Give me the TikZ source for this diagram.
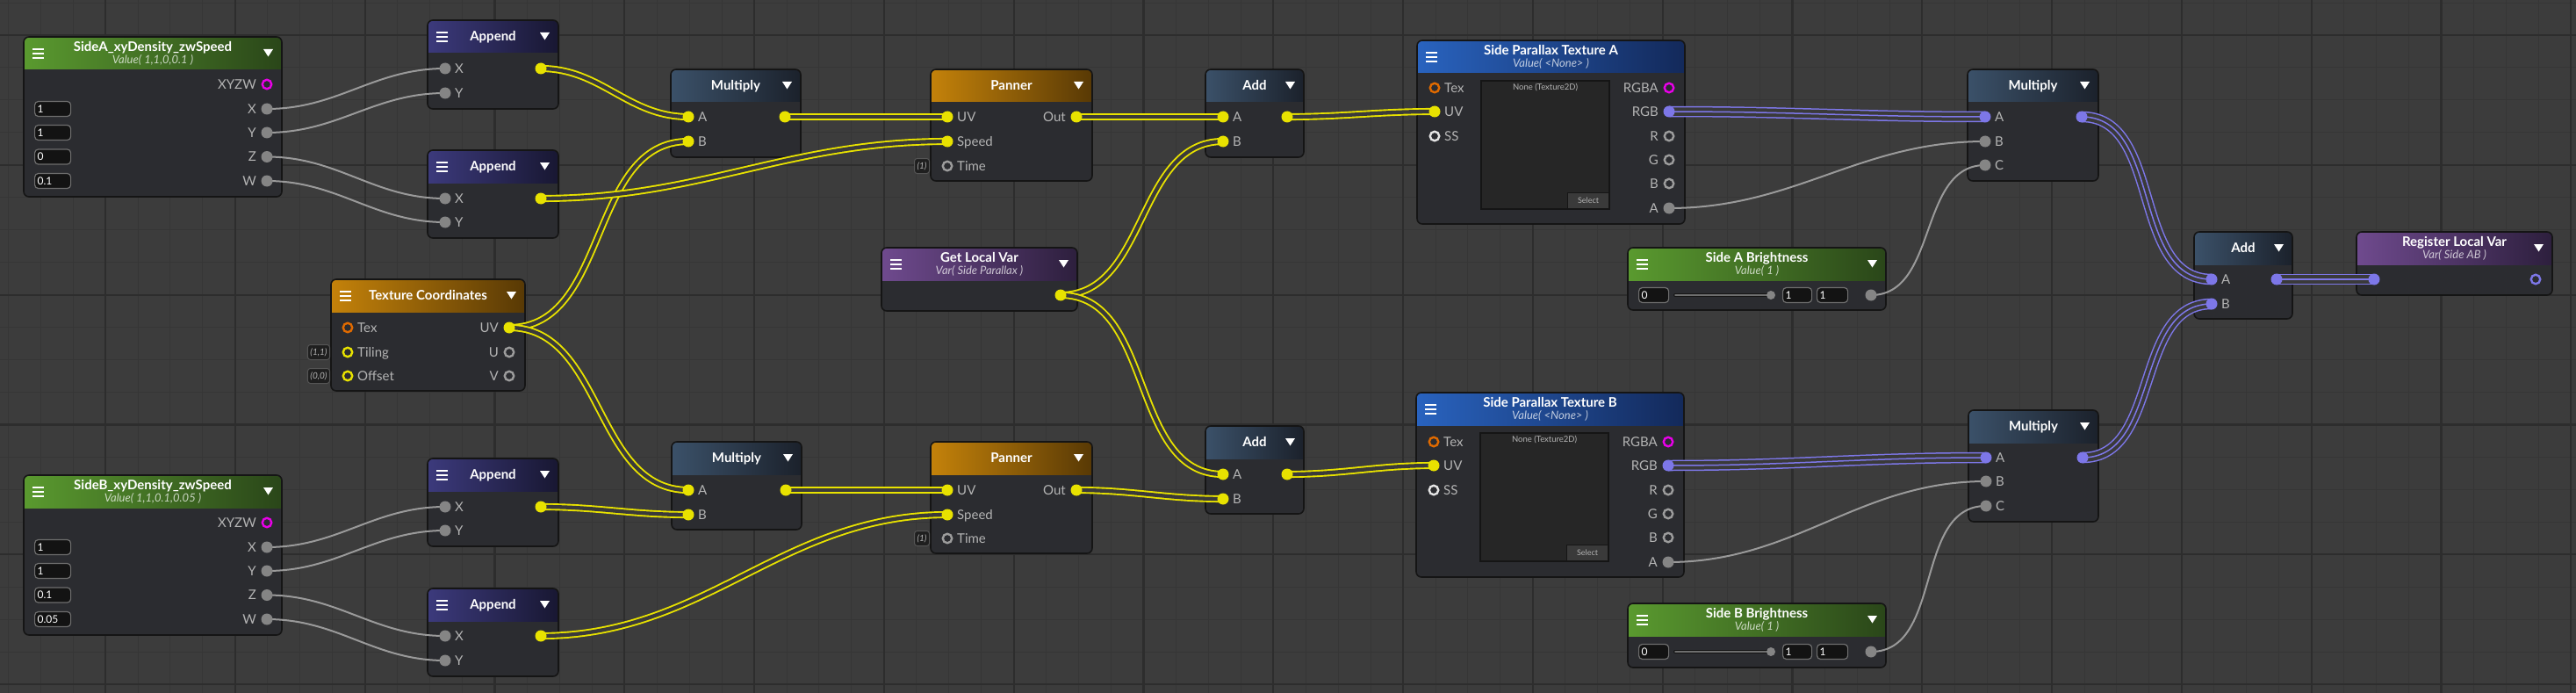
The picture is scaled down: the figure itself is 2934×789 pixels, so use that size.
\documentclass[tikz,border=0pt]{standalone}
\usepackage{fontspec}
\setmainfont{Lato}
\usetikzlibrary{calc}

\definecolor{canvas}{HTML}{3C3C3C}
\definecolor{gridminor}{HTML}{363636}
\definecolor{gridmajor}{HTML}{2D2D2D}
\definecolor{nodebody}{HTML}{2B2C30}
\definecolor{edgeblack}{HTML}{151515}
\definecolor{greenL}{HTML}{5A9A2F}
\definecolor{greenR}{HTML}{2A4619}
\definecolor{indigoL}{HTML}{3C3A7C}
\definecolor{indigoR}{HTML}{181732}
\definecolor{slateL}{HTML}{3B5169}
\definecolor{slateR}{HTML}{1B212B}
\definecolor{amberL}{HTML}{C4820A}
\definecolor{amberR}{HTML}{583905}
\definecolor{plumL}{HTML}{6F4A8E}
\definecolor{plumR}{HTML}{2D1F3D}
\definecolor{royalL}{HTML}{2963BF}
\definecolor{royalR}{HTML}{13295A}
\definecolor{wyellow}{HTML}{E8E200}
\definecolor{wgap}{HTML}{3A3A3A}
\definecolor{wgrey}{HTML}{9A9A9A}
\definecolor{wpurple}{HTML}{7D77E8}
\definecolor{portgrey}{HTML}{858585}
\definecolor{ringgrey}{HTML}{9C9C9C}
\definecolor{ringwhite}{HTML}{E4E4E4}
\definecolor{pmagenta}{HTML}{E800E8}
\definecolor{porange}{HTML}{E06A00}
\definecolor{labelgrey}{HTML}{B4B4B4}
\definecolor{fieldedge}{HTML}{6E6E6E}
\definecolor{fieldfill}{HTML}{131313}
\definecolor{tagedge}{HTML}{555555}
\definecolor{tagfill}{HTML}{1F1F1F}
\definecolor{previewfill}{HTML}{262626}
\definecolor{buttonfill}{HTML}{3A3A3A}

\pgfdeclarelayer{canvaslayer}
\pgfdeclarelayer{boxlayer}
\pgfdeclarelayer{wirelayer}
\pgfsetlayers{canvaslayer,boxlayer,wirelayer,main}

\tikzset{
  titletext/.style={font=\fontsize{15}{17}\selectfont\bfseries, text=white, inner sep=0pt, text height=10.8pt, text depth=0pt},
  subtext/.style={font=\fontsize{13}{15}\selectfont\itshape, text=white, text opacity=0.72, inner sep=0pt, text height=9.4pt, text depth=0pt},
  portlabel/.style={font=\fontsize{15}{17}\selectfont, text=labelgrey, inner sep=0pt, text height=10.8pt, text depth=0pt},
  nodeedge/.style={draw=edgeblack, line width=1.6pt, rounded corners=6pt},
  fieldbox/.style={draw=fieldedge, fill=fieldfill, line width=1.2pt, rounded corners=4pt, inner xsep=3pt, inner ysep=0pt, minimum height=17pt, font=\fontsize{12}{14}\selectfont, text=white, align=left, text height=8.6pt, text depth=0pt},
  tagbox/.style={draw=tagedge, fill=tagfill, line width=1pt, rounded corners=3pt, inner xsep=3pt, inner ysep=0pt, minimum height=17pt, font=\fontsize{10}{12}\selectfont\itshape, text=labelgrey, text height=7.2pt, text depth=0pt},
  selectbtn/.style={fill=buttonfill, draw=edgeblack, line width=0.8pt, minimum width=47pt, minimum height=18pt, inner sep=0pt, font=\fontsize{9}{10}\selectfont, text=labelgrey},
  pY/.style={circle, fill=wyellow, minimum size=13pt, inner sep=0pt},
  pG/.style={circle, fill=portgrey, minimum size=13pt, inner sep=0pt},
  pP/.style={circle, fill=wpurple, minimum size=13pt, inner sep=0pt},
  ring/.style={circle, draw=#1, line width=2.4pt, minimum size=10.5pt, inner sep=0pt},
  rM/.style={ring=pmagenta}, rO/.style={ring=porange}, rY/.style={ring=wyellow},
  rG/.style={ring=ringgrey}, rW/.style={ring=ringwhite}, rP/.style={ring=wpurple},
  wire/.style={out=0, in=180, looseness=1},
  wgry/.style={draw=wgrey, line width=2pt},
  wyel/.style={draw=wyellow, double=wgap, double distance=4.3pt, line width=1.9pt},
  wpur/.style={draw=wpurple, line width=1.5pt, preaction={draw=wpurple, line width=12.5pt}, preaction={draw=wgap, line width=9.5pt}},
}

% box: name, x, y, width, height, header colour, title, subtitle
\newcommand{\asebox}[8]{%
  \coordinate (#1) at (#2,#3);
  \coordinate (#1-tr) at ({#2+#4},#3);
  \begin{pgfonlayer}{boxlayer}
    \begin{scope}
      \clip[rounded corners=6pt] (#2,#3) rectangle ++(#4,#5);
      \fill[nodebody] (#2,#3) rectangle ++(#4,#5);
      \shade[left color=#6L, right color=#6R] (#2,#3) rectangle ++(#4,37);
    \end{scope}
    \draw[nodeedge] (#2,#3) rectangle ++(#4,#5);
  \end{pgfonlayer}
  \def\subt{#8}%
  \ifx\subt\empty
    \node[titletext] (#1-title) at ({#2+#4/2},{#3+18.5}) {#7};
  \else
    \node[titletext] (#1-title) at ({#2+#4/2},{#3+11}) {#7};
    \node[subtext] (#1-sub) at ({#2+#4/2},{#3+26}) {#8};
  \fi}
\newcommand{\menuicon}[1]{\foreach \d in {14,19,24} \draw[white, line width=2.2pt] ($(#1)+(10,\d)$) -- ++(13,0);}
\newcommand{\dropicon}[1]{\fill[white] ($(#1-tr)+(-21,14)$) -- ++(11,0) -- ++(-5.5,8.5) -- cycle;}
% ports: name, x, y, label, dot style
\newcommand{\portin}[5]{\coordinate (#1) at (#2,#3); \node[#5] (#1-dot) at (#1) {};
  \node[portlabel, anchor=west] (#1-label) at ({#2+11},#3) {#4};}
\newcommand{\portout}[5]{\coordinate (#1) at (#2,#3); \node[#5] (#1-dot) at (#1) {};
  \node[portlabel, anchor=east] (#1-label) at ({#2-12},#3) {#4};}
\newcommand{\portdot}[4]{\coordinate (#1) at (#2,#3); \node[#4] (#1-dot) at (#1) {};}
\newcommand{\valfield}[5]{\node[fieldbox, text width=#4pt, anchor=west] (#1) at (#2,#3) {#5};}
\newcommand{\texpreview}[3]{%
  \filldraw[fill=previewfill, draw=edgeblack, line width=1.2pt] (#2,#3) rectangle ++(146,146);
  \node[font=\fontsize{9.5}{11}\selectfont, text=labelgrey] (#1-none) at ({#2+73},{#3+8}) {None (Texture2D)};
  \node[selectbtn, anchor=south east] (#1-select) at ({#2+146},{#3+146}) {Select};}
\newcommand{\slider}[3]{%
  \valfield{#1-min}{#2}{#3}{28}{0}
  \draw[line width=4pt, draw=edgeblack, line cap=round] ({#2+42},#3) -- ({#2+150},#3);
  \draw[line width=2pt, draw=fieldedge, line cap=round] ({#2+42},#3) -- ({#2+150},#3);
  \node[circle, fill=portgrey, minimum size=10pt, inner sep=0pt] (#1-knob) at ({#2+151},#3) {};
  \valfield{#1-val}{#2+164}{#3}{27}{1}
  \valfield{#1-max}{#2+203}{#3}{29}{1}}

\begin{document}
\begin{tikzpicture}[x=1pt, y=-1pt]
\useasboundingbox (0,0) rectangle (2934,789);
\begin{pgfonlayer}{canvaslayer}
  \fill[canvas] (0,0) rectangle (2934,789);
  \foreach \i in {0,...,79} \draw[gridminor, line width=1pt] ({9.2+36.95*\i},0) -- ++(0,789);
  \foreach \j in {0,...,21} \draw[gridminor, line width=1pt] (0,{3.05+36.95*\j}) -- ++(2934,0);
  \foreach \i in {0,...,19} \draw[gridmajor, line width=2.2pt] ({120+147.8*\i},0) -- ++(0,789);
  \foreach \j in {0,...,5} \draw[gridmajor, line width=2.2pt] (0,{40+147.8*\j}) -- ++(2934,0);
\end{pgfonlayer}

% vector properties
\asebox{sa}{27}{42}{294}{182}{green}{SideA\_xyDensity\_zwSpeed}{Value( 1,1,0,0.1 )}
\menuicon{sa} \dropicon{sa}
\portout{sa-xyzw}{304}{96}{XYZW}{rM}
\portout{sa-x}{304}{124}{X}{pG}
\portout{sa-y}{304}{151}{Y}{pG}
\portout{sa-z}{304}{178.5}{Z}{pG}
\portout{sa-w}{304}{206}{W}{pG}
\valfield{sa-f1}{39}{124}{35}{1}
\valfield{sa-f2}{39}{151}{35}{1}
\valfield{sa-f3}{39}{178.5}{35}{0}
\valfield{sa-f4}{39}{206}{35}{0.1}

\asebox{sb}{27}{541}{294}{182}{green}{SideB\_xyDensity\_zwSpeed}{Value( 1,1,0.1,0.05 )}
\menuicon{sb} \dropicon{sb}
\portout{sb-xyzw}{304}{595}{XYZW}{rM}
\portout{sb-x}{304}{623}{X}{pG}
\portout{sb-y}{304}{650}{Y}{pG}
\portout{sb-z}{304}{677.5}{Z}{pG}
\portout{sb-w}{304}{705}{W}{pG}
\valfield{sb-f1}{39}{623}{35}{1}
\valfield{sb-f2}{39}{650}{35}{1}
\valfield{sb-f3}{39}{677.5}{35}{0.1}
\valfield{sb-f4}{39}{705}{35}{0.05}

% appends
\asebox{ap1}{487}{23}{149}{101}{indigo}{Append}{}
\menuicon{ap1} \dropicon{ap1}
\portin{ap1-x}{507}{78}{X}{pG} \portin{ap1-y}{507}{106}{Y}{pG} \portdot{ap1-o}{616}{78}{pY}
\asebox{ap2}{487}{171}{149}{100}{indigo}{Append}{}
\menuicon{ap2} \dropicon{ap2}
\portin{ap2-x}{507}{226}{X}{pG} \portin{ap2-y}{507}{253}{Y}{pG} \portdot{ap2-o}{616}{226}{pY}
\asebox{ap3}{487}{522}{149}{100}{indigo}{Append}{}
\menuicon{ap3} \dropicon{ap3}
\portin{ap3-x}{507}{577}{X}{pG} \portin{ap3-y}{507}{604}{Y}{pG} \portdot{ap3-o}{616}{577}{pY}
\asebox{ap4}{487}{670}{149}{100}{indigo}{Append}{}
\menuicon{ap4} \dropicon{ap4}
\portin{ap4-x}{507}{724}{X}{pG} \portin{ap4-y}{507}{752}{Y}{pG} \portdot{ap4-o}{616}{724}{pY}

% texture coordinates
\asebox{tc}{377}{318}{221}{127}{amber}{Texture Coordinates}{}
\menuicon{tc} \dropicon{tc}
\portin{tc-tex}{396}{373}{Tex}{rO}
\portin{tc-tiling}{396}{401}{Tiling}{rY}
\portin{tc-offset}{396}{428}{Offset}{rY}
\portout{tc-uv}{580}{373}{UV}{pY}
\portout{tc-u}{580}{401}{U}{rG}
\portout{tc-v}{580}{428}{V}{rG}
\node[tagbox, anchor=east] (tc-tag1) at (376,401) {(1,1)};
\node[tagbox, anchor=east] (tc-tag2) at (376,428) {(0,0)};

% upper chain
\asebox{mu1}{764}{79}{148}{100}{slate}{Multiply}{}
\dropicon{mu1}
\portin{mu1-a}{784}{133}{A}{pY} \portin{mu1-b}{784}{161}{B}{pY} \portdot{mu1-o}{894}{133}{pY}
\asebox{pa1}{1060}{79}{184}{127}{amber}{Panner}{}
\dropicon{pa1}
\portin{pa1-uv}{1079}{133}{UV}{pY}
\portin{pa1-speed}{1079}{161}{Speed}{pY}
\portin{pa1-time}{1079}{189}{Time}{rG}
\portout{pa1-o}{1226}{133}{Out}{pY}
\node[tagbox, anchor=east] (pa1-tag) at (1059,189) {(1)};
\asebox{ad1}{1373}{79}{112}{100}{slate}{Add}{}
\dropicon{ad1}
\portin{ad1-a}{1393}{133}{A}{pY} \portin{ad1-b}{1393}{161}{B}{pY} \portdot{ad1-o}{1466}{133}{pY}

\asebox{gl}{1004}{282}{223}{72}{plum}{Get Local Var}{Var( Side Parallax )}
\menuicon{gl} \dropicon{gl}
\portdot{gl-o}{1208}{336}{pY}

% lower chain
\asebox{mu2}{765}{503}{148}{100}{slate}{Multiply}{}
\dropicon{mu2}
\portin{mu2-a}{784}{558}{A}{pY} \portin{mu2-b}{784}{586}{B}{pY} \portdot{mu2-o}{895}{558}{pY}
\asebox{pa2}{1060}{503}{184}{127}{amber}{Panner}{}
\dropicon{pa2}
\portin{pa2-uv}{1079}{558}{UV}{pY}
\portin{pa2-speed}{1079}{586}{Speed}{pY}
\portin{pa2-time}{1079}{613}{Time}{rG}
\portout{pa2-o}{1226}{558}{Out}{pY}
\node[tagbox, anchor=east] (pa2-tag) at (1059,613) {(1)};
\asebox{ad2}{1373}{485}{112}{100}{slate}{Add}{}
\dropicon{ad2}
\portin{ad2-a}{1393}{540}{A}{pY} \portin{ad2-b}{1393}{568}{B}{pY} \portdot{ad2-o}{1466}{540}{pY}

% textures
\asebox{ta}{1614}{46}{305}{209}{royal}{Side Parallax Texture A}{Value( <None> )}
\menuicon{ta}
\texpreview{ta}{1687}{92}
\portin{ta-tex}{1634}{100}{Tex}{rO}
\portin{ta-uv}{1634}{127}{UV}{pY}
\portin{ta-ss}{1634}{155}{SS}{rW}
\portout{ta-rgba}{1901}{100}{RGBA}{rM}
\portout{ta-rgb}{1901}{127}{RGB}{pP}
\portout{ta-r}{1901}{155}{R}{rG}
\portout{ta-g}{1901}{182}{G}{rG}
\portout{ta-b}{1901}{209}{B}{rG}
\portout{ta-a}{1901}{237}{A}{pG}

\asebox{tb}{1613}{447}{305}{210}{royal}{Side Parallax Texture B}{Value( <None> )}
\menuicon{tb}
\texpreview{tb}{1686}{493}
\portin{tb-tex}{1633}{503}{Tex}{rO}
\portin{tb-uv}{1633}{530}{UV}{pY}
\portin{tb-ss}{1633}{558}{SS}{rW}
\portout{tb-rgba}{1900}{503}{RGBA}{rM}
\portout{tb-rgb}{1900}{530}{RGB}{pP}
\portout{tb-r}{1900}{558}{R}{rG}
\portout{tb-g}{1900}{585}{G}{rG}
\portout{tb-b}{1900}{612}{B}{rG}
\portout{tb-a}{1900}{640}{A}{pG}

% brightness
\asebox{bra}{1854}{282}{294}{71}{green}{Side A Brightness}{Value( 1 )}
\menuicon{bra} \dropicon{bra}
\slider{bra}{1866}{336}
\portdot{bra-o}{2131}{336}{pG}
\asebox{brb}{1854}{687}{294}{73}{green}{Side B Brightness}{Value( 1 )}
\menuicon{brb} \dropicon{brb}
\slider{brb}{1866}{742}
\portdot{brb-o}{2131}{742}{pG}

% combine
\asebox{ma}{2241}{79}{149}{127}{slate}{Multiply}{}
\dropicon{ma}
\portin{ma-a}{2261}{133}{A}{pP} \portin{ma-b}{2261}{161}{B}{pG} \portin{ma-c}{2261}{188}{C}{pG}
\portdot{ma-o}{2371}{133}{pP}
\asebox{mb}{2242}{467}{148}{127}{slate}{Multiply}{}
\dropicon{mb}
\portin{mb-a}{2262}{521}{A}{pP} \portin{mb-b}{2262}{548}{B}{pG} \portin{mb-c}{2262}{576}{C}{pG}
\portdot{mb-o}{2372}{521}{pP}
\asebox{af}{2499}{264}{112}{99}{slate}{Add}{}
\dropicon{af}
\portin{af-a}{2519}{318}{A}{pP} \portin{af-b}{2519}{346}{B}{pP} \portdot{af-o}{2593}{318}{pP}
\asebox{rl}{2684}{264}{223}{72}{plum}{Register Local Var}{Var( Side AB )}
\dropicon{rl}
\portdot{rl-in}{2704}{318}{pP} \portdot{rl-o}{2888}{318}{rP}

% wires
\begin{pgfonlayer}{wirelayer}
  \foreach \a/\b in {sa-x/ap1-x, sa-y/ap1-y, sa-z/ap2-x, sa-w/ap2-y, sb-x/ap3-x, sb-y/ap3-y, sb-z/ap4-x, sb-w/ap4-y, ta-a/ma-b, bra-o/ma-c, tb-a/mb-b, brb-o/mb-c}
    \draw[wgry] (\a) to[wire] (\b);
  \foreach \a/\b in {ap1-o/mu1-a, tc-uv/mu1-b, ap2-o/pa1-speed, mu1-o/pa1-uv, pa1-o/ad1-a, gl-o/ad1-b, ad1-o/ta-uv, tc-uv/mu2-a, ap3-o/mu2-b, ap4-o/pa2-speed, mu2-o/pa2-uv, pa2-o/ad2-b, gl-o/ad2-a, ad2-o/tb-uv}
    \draw[wyel] (\a) to[wire] (\b);
  \foreach \a/\b in {ta-rgb/ma-a, tb-rgb/mb-a, ma-o/af-a, mb-o/af-b, af-o/rl-in}
    \draw[wpur] (\a) to[wire] (\b);
\end{pgfonlayer}
\end{tikzpicture}
\end{document}
